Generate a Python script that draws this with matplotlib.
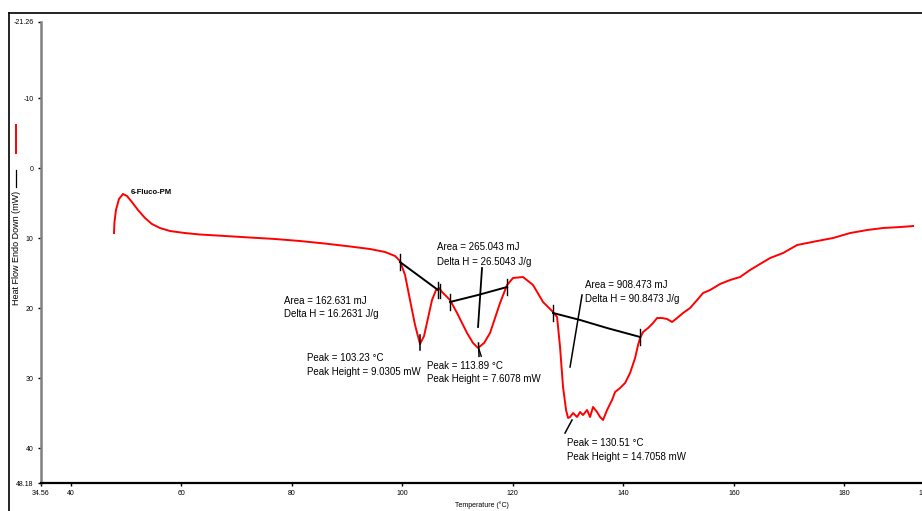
import matplotlib
matplotlib.use("Agg")
import matplotlib.pyplot as plt
from matplotlib.lines import Line2D

plt.rcParams["font.family"] = ["Liberation Sans", "DejaVu Sans"]

# DSC trace: temperature (C) vs heat flow (mW), endo down
temperature = [
    47.84, 47.93, 48.20, 48.74, 49.47, 50.19, 51.09, 52.18, 53.45, 54.71,
    56.16, 57.97, 60.69, 63.40, 67.93, 72.45, 76.98, 81.50, 86.02, 90.55,
    94.17, 96.89, 98.70, 99.60, 100.51, 101.41, 102.32, 103.22, 103.95, 104.67,
    105.39, 106.12, 106.66, 107.20, 107.75, 108.65, 109.92, 111.73, 112.81, 113.72,
    114.81, 115.89, 117.70, 118.97, 120.05, 121.86, 123.67, 125.48, 127.29, 128.02,
    128.56, 129.10, 129.65, 130.01, 130.37, 130.91, 131.64, 132.18, 132.72, 133.45,
    133.99, 134.53, 135.26, 135.80, 136.34, 137.07, 137.97, 138.52, 139.42, 140.33,
    141.23, 142.14, 142.68, 143.04, 143.58, 144.49, 145.39, 146.12, 147.02, 147.93,
    148.83, 149.74, 150.82, 152.09, 153.36, 154.44, 155.71, 157.52, 159.33, 161.14,
    162.95, 164.76, 166.57, 168.93, 171.46, 175.08, 177.97, 181.05, 184.13, 187.02,
    190.10, 192.45,
]
heat_flow = [
    9.29, 7.71, 6.00, 4.43, 3.71, 4.00, 4.86, 6.00, 7.14, 8.00,
    8.57, 9.00, 9.29, 9.50, 9.71, 9.93, 10.14, 10.43, 10.79, 11.21,
    11.57, 12.00, 12.57, 13.29, 15.29, 18.86, 22.43, 25.14, 24.00, 21.43,
    18.86, 17.43, 17.14, 17.71, 18.14, 18.86, 20.71, 23.57, 25.00, 25.71,
    25.00, 23.57, 19.29, 16.71, 15.71, 15.57, 16.71, 19.14, 20.57, 21.29,
    25.57, 31.29, 34.57, 35.71, 35.57, 35.00, 35.57, 34.86, 35.29, 34.57,
    35.57, 34.14, 34.86, 35.57, 36.00, 34.57, 33.14, 32.00, 31.43, 30.71,
    29.29, 27.14, 25.29, 24.29, 23.43, 22.86, 22.14, 21.43, 21.43, 21.57,
    22.00, 21.43, 20.71, 20.00, 18.86, 17.86, 17.43, 16.57, 16.00, 15.57,
    14.57, 13.71, 12.86, 12.14, 11.00, 10.43, 10.00, 9.29, 8.86, 8.57,
    8.43, 8.29,
]

# integration baselines
base1_t = [99.60, 106.48]
base1_h = [13.43, 17.43]
base2_t = [108.65, 113.72, 118.97]
base2_h = [19.14, 18.14, 17.00]
base3_t = [127.29, 132.18, 137.07, 143.04]
base3_h = [20.71, 21.71, 22.86, 24.14]

# results reported by the instrument software
peak_temps = [103.23, 113.89, 130.51]
peak_heights = [9.0305, 7.6078, 14.7058]
areas = [162.631, 265.043, 908.473]
delta_h = [16.2631, 26.5043, 90.8473]
sample_name = "6-Fluco-PM"

x_ticks = [34.56, 40, 60, 80, 100, 120, 140, 160, 180, 195.38]
x_labels = ["34.56", "40", "60", "80", "100", "120", "140", "160", "180", "195.38"]
y_ticks = [-20.86, -10, 0, 10, 20, 30, 40, 45.0]
y_labels = ["-21.26", "-10", "0", "10", "20", "30", "40", "48.18"]

W, H = 922, 511
fig = plt.figure(figsize=(W / 100, H / 100), dpi=100)
ax = fig.add_axes([40.6 / W, 1 - 483 / H, (929.3 - 40.6) / W, (483 - 22) / H])

ax.plot(temperature, heat_flow, color="#ff0000", lw=1.4, zorder=3)

for t, h in [(base1_t, base1_h), (base2_t, base2_h), (base3_t, base3_h)]:
    ax.plot(t, h, color="black", lw=1.4, zorder=4)
    for tt, hh in [(t[0], h[0]), (t[-1], h[-1])]:
        ax.plot([tt, tt], [hh - 1.2, hh + 1.2], color="black", lw=1.0, zorder=4)
ax.plot([106.9, 106.9], [16.6, 18.6], color="black", lw=1.0, zorder=4)

# peak / area marker lines
ax.plot([114.44, 113.72], [14.29, 22.71], color="black", lw=1.3, zorder=4)
ax.plot([132.54, 130.37], [18.14, 28.43], color="black", lw=1.1, zorder=4)
ax.plot([103.23, 103.23], [23.9, 26.0], color="black", lw=1.1, zorder=4)
ax.plot([113.8, 113.9], [25.0, 26.9], color="black", lw=1.1, zorder=4)
ax.plot([113.9, 114.3], [25.9, 26.9], color="black", lw=1.0, zorder=4)
ax.plot([130.73, 129.46], [36.0, 37.86], color="black", lw=1.1, zorder=4)

fs = 7
ax.text(50.91, 3.43, sample_name, fontsize=5.5, fontweight="bold", va="center", ha="left")

area_pos = [(78.61, 19.0, 20.86), (106.30, 11.29, 13.43), (133.09, 16.71, 18.71)]
peak_pos = [(82.77, 27.14, 29.14), (104.49, 28.29, 30.14), (129.83, 39.29, 41.29)]
for i in range(3):
    x, y1, y2 = area_pos[i]
    ax.text(x, y1, f"Area = {areas[i]} mJ", fontsize=fs, va="center")
    ax.text(x, y2, f"Delta H = {delta_h[i]} J/g", fontsize=fs, va="center")
    x, y1, y2 = peak_pos[i]
    ax.text(x, y1, f"Peak = {peak_temps[i]} °C", fontsize=fs, va="center")
    ax.text(x, y2, f"Peak Height = {peak_heights[i]} mW", fontsize=fs, va="center")

ax.set_xlim(34.56, 195.38)
ax.set_ylim(45.0, -20.86)
ax.set_xticks(x_ticks)
ax.set_xticklabels(x_labels)
ax.set_yticks(y_ticks)
ax.set_yticklabels(y_labels)
ax.tick_params(axis="both", labelsize=5, length=2, width=1, pad=3)

for s in ["top", "right"]:
    ax.spines[s].set_visible(False)
ax.spines["left"].set_color("#808080")
ax.spines["left"].set_linewidth(1.8)
ax.spines["bottom"].set_color("black")
ax.spines["bottom"].set_linewidth(1.6)

fig.text(482 / W, 1 - 505 / H, "Temperature (°C)", fontsize=5, ha="center", va="center")
fig.text(17 / W, 1 - 248 / H, "Heat Flow Endo Down (mW)", fontsize=6.5,
         rotation=90, ha="center", va="center")
fig.add_artist(Line2D([16 / W, 16 / W], [1 - 125 / H, 1 - 153 / H], color="#ff0000", lw=1.4))
fig.add_artist(Line2D([16 / W, 16 / W], [1 - 170 / H, 1 - 187 / H], color="black", lw=0.9))

# outer frame
fig.add_artist(Line2D([9 / W, 9 / W], [0, 1 - 13 / H], color="black", lw=1.2))
fig.add_artist(Line2D([9 / W, 1], [1 - 13 / H, 1 - 13 / H], color="black", lw=1.2))

fig.savefig("out.png", dpi=100)
